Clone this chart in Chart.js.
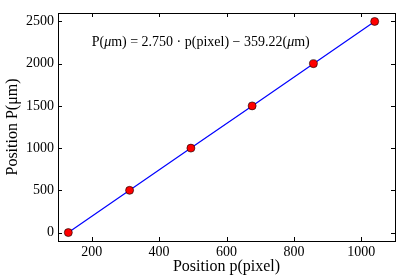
<!DOCTYPE html>
<html>
<head>
<meta charset="utf-8">
<script src="https://cdn.jsdelivr.net/npm/chart.js@4"></script>
<style>
  html, body { margin: 0; padding: 0; background: #fff; }
  #wrap { width: 415px; height: 277px; }
</style>
</head>
<body>
<div id="wrap"><canvas id="myChart" width="415" height="277"></canvas></div>
<script>
/* Data */
const pixelPos = [130.6, 312.4, 494.3, 676.1, 857.9, 1039.7]
const micronPos = [0, 500, 1000, 1500, 2000, 2500]
const xTicks = [200, 400, 600, 800, 1000]
const yTicks = [0, 500, 1000, 1500, 2000, 2500]
const fitLabel = ['P(', 'μ', 'm) = 2.750 · p(pixel) − 359.22(', 'μ', 'm)']
const fitAt = { x: 200, y: 2250 }

const serif = "'Liberation Serif', 'DejaVu Serif', serif"

/* Frame, inward ticks on all four sides, and the fit text */
const framePlugin = {
    id: 'frame',
    afterDraw(chart) {
        const ctx = chart.ctx
        const a = chart.chartArea
        const xs = chart.scales.x, ys = chart.scales.y
        const len = 4
        ctx.save()
        ctx.strokeStyle = '#000'
        ctx.lineWidth = 1
        ctx.beginPath()
        xTicks.forEach(v => {
            const px = Math.round(xs.getPixelForValue(v)) + 0.5
            ctx.moveTo(px, a.bottom); ctx.lineTo(px, a.bottom - len)
            ctx.moveTo(px, a.top); ctx.lineTo(px, a.top + len)
        })
        yTicks.forEach(v => {
            const py = Math.round(ys.getPixelForValue(v)) + 0.5
            ctx.moveTo(a.left, py); ctx.lineTo(a.left + len, py)
            ctx.moveTo(a.right, py); ctx.lineTo(a.right - len, py)
        })
        ctx.stroke()
        ctx.strokeRect(Math.round(a.left) + 0.5, Math.round(a.top) + 0.5,
            Math.round(a.right - a.left), Math.round(a.bottom - a.top))

        // fit equation, placed in data coordinates
        let tx = xs.getPixelForValue(fitAt.x)
        const ty = ys.getPixelForValue(fitAt.y)
        ctx.fillStyle = '#000'
        ctx.textBaseline = 'middle'
        fitLabel.forEach((part, i) => {
            ctx.font = (part === 'μ' ? 'italic ' : '') + '14px ' + serif
            ctx.fillText(part, tx, ty)
            tx += ctx.measureText(part).width
        })
        ctx.restore()
    }
}

const plain = v => String(v)

const ctx = document.getElementById('myChart').getContext('2d')
const myChart = new Chart(ctx, {
    type: 'scatter',
    data: {
        datasets: [{
            data: pixelPos.map((p, i) => ({ x: p, y: micronPos[i] })),
            showLine: true,
            borderColor: '#0000ff',
            borderWidth: 1.2,
            pointBackgroundColor: '#ff0000',
            pointBorderColor: '#000',
            pointBorderWidth: 0.6,
            pointRadius: 4,
            tension: 0
        }]
    },
    options: {
        responsive: false,
        animation: false,
        layout: { padding: { top: 13, right: 20, left: 0, bottom: 0 } },
        plugins: { legend: { display: false }, tooltip: { enabled: false } },
        scales: {
            x: {
                type: 'linear',
                min: 100, max: 1100,
                afterBuildTicks: s => { s.ticks = xTicks.map(v => ({ value: v })) },
                afterFit: s => { s.height = 36 },
                grid: { display: false, drawTicks: false },
                border: { display: false },
                ticks: { color: '#000', padding: 3, maxRotation: 0, callback: plain, font: { family: serif, size: 14 } },
                title: {
                    display: true, text: 'Position p(pixel)', color: '#000',
                    font: { family: serif, size: 16 }, padding: { top: 0, bottom: 1 }
                }
            },
            y: {
                type: 'linear',
                min: -100, max: 2600,
                afterBuildTicks: s => { s.ticks = yTicks.map(v => ({ value: v })) },
                afterFit: s => { s.width = 58 },
                grid: { display: false, drawTicks: false },
                border: { display: false },
                ticks: { color: '#000', padding: 4, callback: plain, font: { family: serif, size: 14 } },
                title: {
                    display: true, text: 'Position P(μm)', color: '#000',
                    font: { family: serif, size: 16 }, padding: { top: 3, bottom: 0 }
                }
            }
        }
    },
    plugins: [framePlugin]
})
</script>
</body>
</html>
